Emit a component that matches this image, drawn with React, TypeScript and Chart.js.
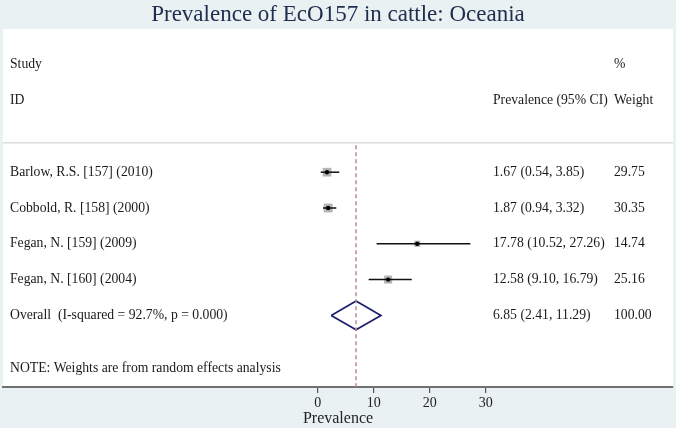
import React, { useEffect, useRef } from "react";
import { Chart, registerables } from "chart.js";

Chart.register(...registerables);

const chartTitle = "Prevalence of EcO157 in cattle: Oceania";
const axisTitle = "Prevalence";
const studies = [
  "Barlow, R.S. [157] (2010)",
  "Cobbold, R. [158] (2000)",
  "Fegan, N. [159] (2009)",
  "Fegan, N. [160] (2004)",
];
const estimates = [1.67, 1.87, 17.78, 12.58];
const lowerCI = [0.54, 0.94, 10.52, 9.1];
const upperCI = [3.85, 3.32, 27.26, 16.79];
const weights = [29.75, 30.35, 14.74, 25.16];
const overallLabel = "Overall  (I-squared = 92.7%, p = 0.000)";
const overallEstimate = 6.85;
const overallLower = 2.41;
const overallUpper = 11.29;
const overallWeight = 100.0;
const noteText = "NOTE: Weights are from random effects analysis";
const xTicks = [0, 10, 20, 30];

const X_MIN = -56.2;
const X_MAX = 63.45;
const studyRows = [4, 5, 6, 7];
const overallRow = 8;
const FONT = "'Liberation Serif', 'Times New Roman', serif";
const BG = "#e9f1f3";

export default function App() {
  const ref = useRef<HTMLCanvasElement | null>(null);

  useEffect(() => {
    document.body.style.margin = "0";
    const canvas = ref.current;
    if (!canvas) return;

    const fmt = (v: number) => v.toFixed(2);

    const bgPlugin = {
      id: "bgPlugin",
      beforeDraw(chart: any) {
        const { ctx, chartArea } = chart;
        ctx.save();
        ctx.fillStyle = BG;
        ctx.fillRect(0, 0, chart.width, chart.height);
        ctx.fillStyle = "#ffffff";
        ctx.fillRect(
          chartArea.left,
          chartArea.top,
          chartArea.right - chartArea.left,
          chartArea.bottom - chartArea.top
        );
        ctx.restore();
      },
    };

    const textPlugin = {
      id: "textPlugin",
      afterDatasetsDraw(chart: any) {
        const { ctx } = chart;
        const ys = chart.scales.y;
        ctx.save();
        ctx.font = `13.7px ${FONT}`;
        ctx.fillStyle = "#1a1a1a";
        ctx.textBaseline = "middle";
        ctx.textAlign = "left";
        const colStudy = 10;
        const colCI = 493;
        const colW = 614;
        const put = (t: string, x: number, row: number) =>
          ctx.fillText(t, x, ys.getPixelForValue(row));
        put("Study", colStudy, 1);
        put("%", colW, 1);
        put("ID", colStudy, 2);
        put("Prevalence (95% CI)", colCI, 2);
        put("Weight", colW, 2);
        studies.forEach((s, i) => {
          put(s, colStudy, studyRows[i]);
          put(
            `${fmt(estimates[i])} (${fmt(lowerCI[i])}, ${fmt(upperCI[i])})`,
            colCI,
            studyRows[i]
          );
          put(fmt(weights[i]), colW, studyRows[i]);
        });
        put(overallLabel, colStudy, overallRow);
        put(
          `${fmt(overallEstimate)} (${fmt(overallLower)}, ${fmt(overallUpper)})`,
          colCI,
          overallRow
        );
        put(fmt(overallWeight), colW, overallRow);
        put(noteText, colStudy, 9.47);
        ctx.restore();
      },
    };

    const ciSets = studies.map((s, i) => ({
      type: "line" as const,
      label: "ci" + i,
      data: [
        { x: lowerCI[i], y: studyRows[i] },
        { x: upperCI[i], y: studyRows[i] },
      ],
      borderColor: "#111111",
      borderWidth: 1.5,
      pointRadius: 0,
      fill: false,
      order: 2,
    }));

    const chart = new Chart(canvas, {
      type: "scatter",
      data: {
        datasets: [
          {
            type: "line",
            label: "separator",
            data: [
              { x: X_MIN, y: 3.18 },
              { x: X_MAX, y: 3.18 },
            ],
            borderColor: "#dcdcdc",
            borderWidth: 1.5,
            pointRadius: 0,
            fill: false,
            order: 5,
          },
          {
            type: "line",
            label: "overall line",
            data: [
              { x: overallEstimate, y: 3.25 },
              { x: overallEstimate, y: 10 },
            ],
            borderColor: "#c08890",
            borderDash: [4, 3],
            borderWidth: 1.5,
            pointRadius: 0,
            fill: false,
            order: 0,
          },
          ...ciSets,
          {
            label: "boxes",
            data: estimates.map((e, i) => ({ x: e, y: studyRows[i] })),
            pointStyle: "rect",
            pointRadius: weights.map((w) => (1.6 * Math.sqrt(w)) / Math.SQRT2),
            backgroundColor: "#b4b4b4",
            borderWidth: 0,
            order: 3,
          },
          {
            label: "points",
            data: estimates.map((e, i) => ({ x: e, y: studyRows[i] })),
            pointStyle: "circle",
            pointRadius: 2.2,
            backgroundColor: "#000000",
            borderWidth: 0,
            order: 1,
          },
          {
            type: "line",
            label: "diamond",
            data: [
              { x: overallLower, y: overallRow },
              { x: overallEstimate, y: overallRow - 0.4 },
              { x: overallUpper, y: overallRow },
              { x: overallEstimate, y: overallRow + 0.4 },
              { x: overallLower, y: overallRow },
            ],
            borderColor: "#1c1f6e",
            borderWidth: 1.7,
            pointRadius: 0,
            fill: false,
            tension: 0,
            order: 1,
          },
        ] as any,
      },
      options: {
        responsive: false,
        animation: false,
        events: [],
        layout: { autoPadding: false, padding: { left: 3, right: 3, top: 0, bottom: 0 } },
        plugins: {
          legend: { display: false },
          tooltip: { enabled: false },
          title: {
            display: true,
            text: chartTitle,
            color: "#1f2d4e",
            font: { family: FONT, size: 23, weight: "normal", lineHeight: 1.2 },
            padding: { top: 1, bottom: 0.4 },
          },
        },
        scales: {
          x: {
            type: "linear",
            min: X_MIN,
            max: X_MAX,
            afterBuildTicks: (s: any) => {
              s.ticks = xTicks.map((v) => ({ value: v }));
            },
            afterFit: (s: any) => {
              s.height = 41;
            },
            ticks: {
              font: { family: FONT, size: 14 },
              color: "#222222",
              padding: 2,
              maxRotation: 0,
              autoSkip: false,
            },
            grid: {
              display: true,
              drawOnChartArea: false,
              drawTicks: true,
              tickLength: 6,
              color: "#555555",
              lineWidth: 1.2,
            },
            border: { display: true, color: "#707070", width: 2 },
            title: {
              display: true,
              text: axisTitle,
              color: "#222222",
              font: { family: FONT, size: 16 },
              padding: { top: 0, bottom: 0 },
            },
          },
          y: {
            type: "linear",
            min: 0,
            max: 10,
            reverse: true,
            display: false,
          },
        },
      },
      plugins: [bgPlugin, textPlugin],
    });

    return () => chart.destroy();
  }, []);

  return (
    <div style={{ position: "absolute", left: 0, top: 0, width: 676, height: 428 }}>
      <canvas ref={ref} width={676} height={428} />
    </div>
  );
}
